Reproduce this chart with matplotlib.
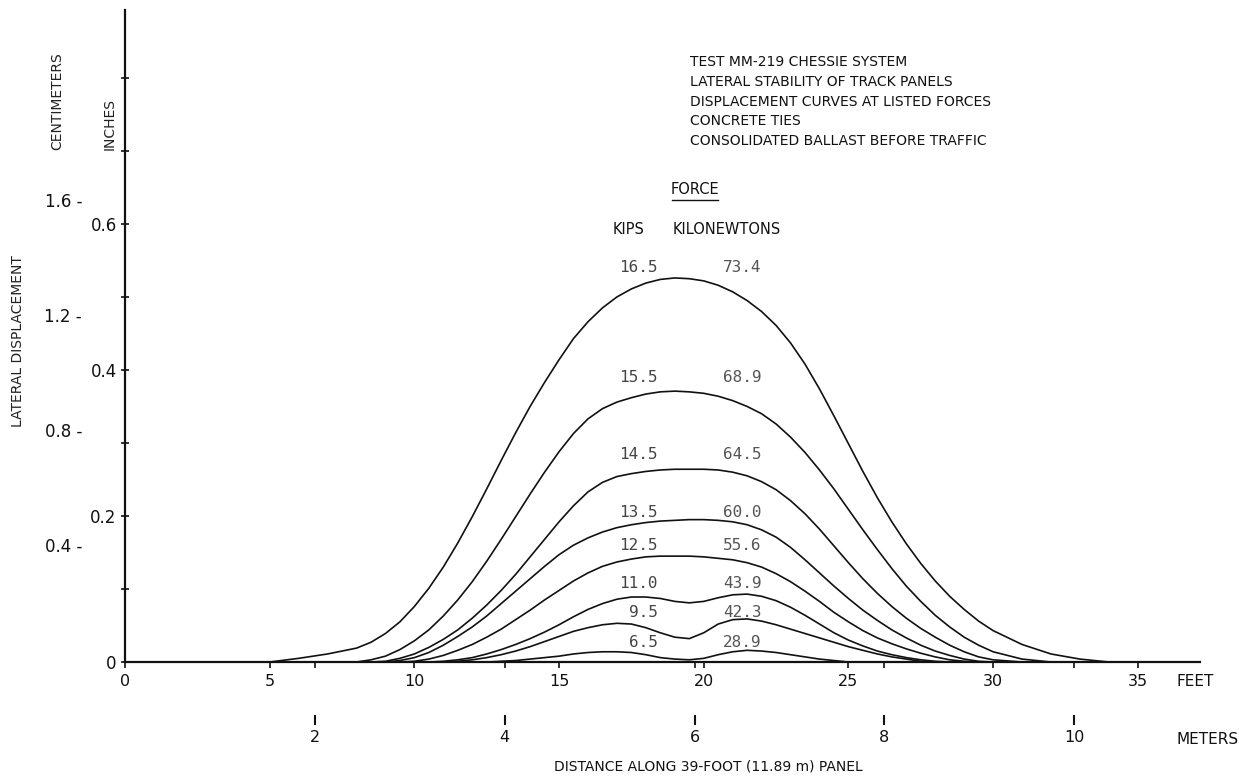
import matplotlib
matplotlib.use("Agg")
import matplotlib.pyplot as plt

# ---------------- data (feet, inches) ----------------
x_ft = [0, 5, 6, 7, 8, 8.5, 9, 9.5, 10, 10.5, 11, 11.5, 12, 12.5, 13, 13.5, 14, 14.5,
        15, 15.5, 16, 16.5, 17, 17.5, 18, 18.5, 19, 19.5, 20, 20.5, 21, 21.5, 22,
        22.5, 23, 23.5, 24, 24.5, 25, 25.5, 26, 26.5, 27, 27.5, 28, 28.5, 29, 29.5,
        30, 31, 32, 33, 34, 37.15]

disp_165 = [0, 0, 0.005, 0.011, 0.019, 0.027, 0.039, 0.055, 0.076, 0.101, 0.130, 0.163,
            0.199, 0.237, 0.276, 0.314, 0.350, 0.383, 0.414, 0.443, 0.466, 0.485, 0.500,
            0.511, 0.519, 0.524, 0.526, 0.525, 0.522, 0.516, 0.507, 0.495, 0.480, 0.461,
            0.437, 0.408, 0.374, 0.337, 0.299, 0.261, 0.225, 0.192, 0.162, 0.135, 0.111,
            0.090, 0.072, 0.056, 0.043, 0.024, 0.011, 0.004, 0, 0]
disp_155 = [0, 0, 0, 0, 0, 0.003, 0.008, 0.017, 0.029, 0.044, 0.063, 0.085, 0.110, 0.138,
            0.168, 0.199, 0.230, 0.260, 0.288, 0.313, 0.333, 0.347, 0.356, 0.362, 0.367,
            0.370, 0.371, 0.370, 0.368, 0.364, 0.358, 0.350, 0.340, 0.326, 0.308, 0.287,
            0.263, 0.237, 0.209, 0.181, 0.154, 0.128, 0.104, 0.083, 0.064, 0.048, 0.034,
            0.023, 0.014, 0.004, 0, 0, 0, 0]
disp_145 = [0, 0, 0, 0, 0, 0, 0.001, 0.005, 0.011, 0.020, 0.031, 0.044, 0.060, 0.078,
            0.098, 0.120, 0.144, 0.168, 0.192, 0.214, 0.233, 0.246, 0.254, 0.258, 0.261,
            0.263, 0.264, 0.264, 0.264, 0.263, 0.260, 0.255, 0.247, 0.236, 0.221, 0.203,
            0.182, 0.159, 0.136, 0.114, 0.094, 0.076, 0.060, 0.046, 0.034, 0.023, 0.014,
            0.007, 0.003, 0, 0, 0, 0, 0]
disp_135 = [0, 0, 0, 0, 0, 0, 0, 0.002, 0.006, 0.013, 0.023, 0.035, 0.048, 0.063, 0.080,
            0.097, 0.114, 0.131, 0.147, 0.160, 0.170, 0.178, 0.184, 0.188, 0.191, 0.193,
            0.194, 0.195, 0.195, 0.194, 0.192, 0.188, 0.181, 0.171, 0.157, 0.140, 0.122,
            0.104, 0.087, 0.071, 0.057, 0.044, 0.033, 0.023, 0.015, 0.009, 0.004, 0.001,
            0, 0, 0, 0, 0, 0]
disp_125 = [0, 0, 0, 0, 0, 0, 0, 0, 0.001, 0.004, 0.009, 0.016, 0.024, 0.034, 0.045,
            0.058, 0.071, 0.085, 0.098, 0.111, 0.122, 0.131, 0.137, 0.141, 0.144, 0.145,
            0.145, 0.145, 0.144, 0.142, 0.140, 0.136, 0.130, 0.121, 0.110, 0.097, 0.083,
            0.068, 0.055, 0.043, 0.033, 0.025, 0.018, 0.012, 0.007, 0.003, 0.001, 0, 0,
            0, 0, 0, 0, 0]
disp_110 = [0, 0, 0, 0, 0, 0, 0, 0, 0, 0, 0.001, 0.003, 0.006, 0.011, 0.017, 0.024, 0.032,
            0.041, 0.051, 0.062, 0.072, 0.080, 0.086, 0.089, 0.089, 0.087, 0.083, 0.081,
            0.083, 0.088, 0.092, 0.093, 0.090, 0.084, 0.075, 0.064, 0.052, 0.040, 0.030,
            0.022, 0.015, 0.010, 0.006, 0.003, 0.001, 0, 0, 0, 0, 0, 0, 0, 0, 0]
disp_95 = [0, 0, 0, 0, 0, 0, 0, 0, 0, 0, 0, 0.001, 0.003, 0.006, 0.010, 0.015, 0.021, 0.028,
           0.035, 0.042, 0.047, 0.051, 0.053, 0.052, 0.047, 0.040, 0.034, 0.032, 0.040,
           0.052, 0.058, 0.059, 0.056, 0.051, 0.045, 0.039, 0.033, 0.027, 0.021, 0.016,
           0.011, 0.007, 0.004, 0.001, 0, 0, 0, 0, 0, 0, 0, 0, 0, 0]
disp_65 = [0, 0, 0, 0, 0, 0, 0, 0, 0, 0, 0, 0, 0, 0, 0.001, 0.002, 0.004, 0.006, 0.008,
           0.011, 0.013, 0.014, 0.014, 0.013, 0.010, 0.006, 0.004, 0.003, 0.005, 0.010,
           0.014, 0.016, 0.015, 0.013, 0.010, 0.007, 0.004, 0.002, 0, 0, 0, 0, 0, 0, 0,
           0, 0, 0, 0, 0, 0, 0, 0, 0]

curves = [disp_165, disp_155, disp_145, disp_135, disp_125, disp_110, disp_95, disp_65]
kips_labels = ["16.5", "15.5", "14.5", "13.5", "12.5", "11.0", "9.5", "6.5"]
kn_labels = ["73.4", "68.9", "64.5", "60.0", "55.6", "43.9", "42.3", "28.9"]
label_y = [0.541, 0.389, 0.284, 0.205, 0.159, 0.107, 0.068, 0.027]

feet_ticks = [0, 5, 10, 15, 20, 25, 30, 35]
meter_ticks = [2, 4, 6, 8, 10]
inch_ticks = [0, 0.2, 0.4, 0.6]
inch_minor = [0.1, 0.3, 0.5, 0.7, 0.8]
cm_ticks = [0.4, 0.8, 1.2, 1.6]

header_lines = ["TEST MM-219 CHESSIE SYSTEM",
                "LATERAL STABILITY OF TRACK PANELS",
                "DISPLACEMENT CURVES AT LISTED FORCES",
                "CONCRETE TIES",
                "CONSOLIDATED BALLAST BEFORE TRAFFIC"]

FT_PER_M = 3.28084
CM_PER_IN = 2.54

# ---------------- figure ----------------
W, H = 1239, 780
fig = plt.figure(figsize=(W / 100, H / 100), dpi=100)
fig.patch.set_facecolor("white")

def fx(px):
    return px / W

def fy(py):
    return 1 - py / H

ax = fig.add_axes([fx(125), fy(662), fx(1200) - fx(125), fy(10) - fy(662)])
ax.set_xlim(0, 37.15)
ax.set_ylim(0, 0.893)
ax.set_facecolor("white")

for s in ["top", "right"]:
    ax.spines[s].set_visible(False)
for s in ["left", "bottom"]:
    ax.spines[s].set_linewidth(1.6)
    ax.spines[s].set_color("#111111")

for d in curves:
    ax.plot(x_ft, d, color="#111111", lw=1.2, solid_joinstyle="round",
            solid_capstyle="round", zorder=3)

# curve labels
mono = "DejaVu Sans Mono"
for k, kn, yv in zip(kips_labels, kn_labels, label_y):
    ax.text(18.42, yv, k, ha="right", va="center", fontsize=11.5, family=mono,
            color="#444444")
    ax.text(20.66, yv, kn, ha="left", va="center", fontsize=11.5, family=mono,
            color="#555555")

# x axis (feet)
ax.set_xticks(feet_ticks)
ax.set_xticklabels([str(v) for v in feet_ticks])
ax.set_xticks([m * FT_PER_M for m in meter_ticks], minor=True)
ax.tick_params(axis="x", which="both", direction="out", length=4, width=1.2,
               colors="#111111", labelsize=11.5, pad=5)

# y axis (inches)
ax.set_yticks(inch_ticks)
ax.set_yticklabels(["0", "0.2", "0.4", "0.6"])
ax.set_yticks(inch_minor, minor=True)
ax.tick_params(axis="y", which="both", direction="inout", length=6, width=1.2,
               colors="#111111", labelsize=12, pad=3)

# meters secondary axis
sec = ax.secondary_xaxis(-0.081, functions=(lambda f: f / FT_PER_M,
                                             lambda m: m * FT_PER_M))
sec.set_xticks(meter_ticks)
sec.spines["bottom"].set_visible(False)
sec.tick_params(axis="x", direction="out", length=7, width=1.5, colors="#111111",
                labelsize=11.5, pad=4)

# centimeter labels at left
cm_label_x = -43 / 28.94
for c in cm_ticks:
    ax.text(cm_label_x, c / CM_PER_IN, f"{c:.1f} -", ha="right", va="center",
            fontsize=12, color="#111111", clip_on=False)

# axis titles
fig.text(fx(57), fy(150), "CENTIMETERS", rotation=90, ha="center", va="bottom",
         fontsize=10, color="#222222")
fig.text(fx(110), fy(150), "INCHES", rotation=90, ha="center", va="bottom",
         fontsize=10, color="#222222")
fig.text(fx(18), fy(341), "LATERAL DISPLACEMENT", rotation=90, ha="center",
         va="center", fontsize=10, color="#222222")

fig.text(fx(1177), fy(682), "FEET", ha="left", va="center", fontsize=11,
         color="#111111")
fig.text(fx(1176), fy(740), "METERS", ha="left", va="center", fontsize=11,
         color="#111111")
fig.text(fx(708), fy(767), "DISTANCE ALONG 39-FOOT (11.89 m) PANEL", ha="center",
         va="center", fontsize=10, color="#111111")

# header block
for i, line in enumerate(header_lines):
    fig.text(fx(690), fy(62 + i * 19.8), line, ha="left", va="center", fontsize=10,
             color="#111111")

fig.text(fx(695), fy(190), "FORCE", ha="center", va="center", fontsize=10.5,
         color="#111111")
fig.add_artist(plt.Line2D([fx(672), fx(718)], [fy(200), fy(200)], color="#111111",
                          lw=1.0))
fig.text(fx(629), fy(230), "KIPS", ha="center", va="center", fontsize=10.5,
         color="#111111")
fig.text(fx(673), fy(230), "KILONEWTONS", ha="left", va="center", fontsize=10.5,
         color="#111111")

fig.savefig("out.png", dpi=100, facecolor="white")
